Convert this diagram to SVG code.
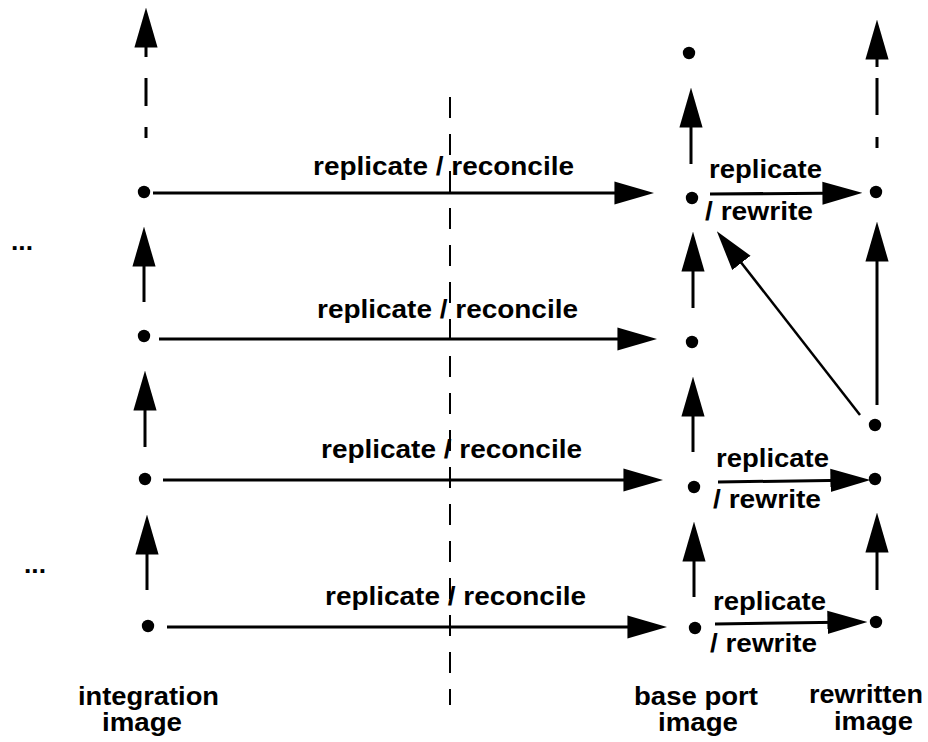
<svg xmlns="http://www.w3.org/2000/svg" width="928" height="742" viewBox="0 0 928 742">
<style>
text{font-family:"Liberation Sans",Arial,sans-serif;font-weight:bold;font-size:25px;fill:#000}
.c{stroke:#000;stroke-width:3;fill:none;marker-end:url(#ah)}
.d{stroke:#000;stroke-width:2;fill:none;stroke-dasharray:21 16}
.dot{fill:#000}
</style>
<defs>
<marker id="ah" markerUnits="userSpaceOnUse" markerWidth="40" markerHeight="24" viewBox="0 0 38 22" refX="30" refY="11" orient="auto">
<path d="M0,0 L38,11 L0,22 z" fill="#000"/>
</marker>
</defs>
<rect width="928" height="742" fill="#fff"/>
<g id="connectors">
<path class="c" d="M146,138 V127 M146,106 V78 M146,57 V16"/>
<path class="c" d="M144,302 V235"/>
<path class="c" d="M145,447 V379"/>
<path class="c" d="M147,590 V523"/>
<path class="c" d="M691,164 V96"/>
<path class="c" d="M693,308 V240"/>
<path class="c" d="M693,452 V385"/>
<path class="c" d="M694,597 V530"/>
<path class="c" d="M877,148 V137 M877,115 V78 M877,67 V28"/>
<path class="c" d="M877,405 V230"/>
<path class="c" d="M877,590 V521"/>
<path class="c" d="M153,193 H646"/>
<path class="c" d="M159,339 H649"/>
<path class="c" d="M163,480 H655"/>
<path class="c" d="M167,627 H659"/>
<path class="c" d="M710,194 L854,193"/>
<path class="c" d="M718,482 L862,480"/>
<path class="c" d="M715,624 L859,622"/>
<path class="c" style="stroke-width:2.5" d="M860,415 L722,238"/>
<path class="d" d="M450,97 V705"/>
</g>
<g id="integration-image">
<circle class="dot" cx="144" cy="192" r="6.2"/>
<circle class="dot" cx="144" cy="336" r="6.2"/>
<circle class="dot" cx="145" cy="479" r="6.2"/>
<circle class="dot" cx="148" cy="626" r="6.2"/>
<text x="78" y="705" textLength="141" lengthAdjust="spacingAndGlyphs">integration</text>
<text x="102" y="731" textLength="80" lengthAdjust="spacingAndGlyphs">image</text>
</g>
<g id="base-port-image">
<circle class="dot" cx="689" cy="53" r="6.2"/>
<circle class="dot" cx="692" cy="198" r="6.2"/>
<circle class="dot" cx="692" cy="342" r="6.2"/>
<circle class="dot" cx="694" cy="487" r="6.2"/>
<circle class="dot" cx="695" cy="628" r="6.2"/>
<text x="634" y="705" textLength="124" lengthAdjust="spacingAndGlyphs">base port</text>
<text x="658" y="731" textLength="80" lengthAdjust="spacingAndGlyphs">image</text>
</g>
<g id="rewritten-image">
<circle class="dot" cx="876" cy="192" r="6.2"/>
<circle class="dot" cx="875" cy="425" r="6.2"/>
<circle class="dot" cx="875" cy="479" r="6.2"/>
<circle class="dot" cx="876" cy="622" r="6.2"/>
<text x="809" y="703" textLength="114" lengthAdjust="spacingAndGlyphs">rewritten</text>
<text x="834" y="730" textLength="79" lengthAdjust="spacingAndGlyphs">image</text>
</g>
<g id="labels">
<text x="313" y="175" textLength="261" lengthAdjust="spacingAndGlyphs">replicate / reconcile</text>
<text x="317" y="318" textLength="261" lengthAdjust="spacingAndGlyphs">replicate / reconcile</text>
<text x="321" y="458" textLength="261" lengthAdjust="spacingAndGlyphs">replicate / reconcile</text>
<text x="325" y="605" textLength="261" lengthAdjust="spacingAndGlyphs">replicate / reconcile</text>
<text x="709" y="178" textLength="113" lengthAdjust="spacingAndGlyphs">replicate</text>
<text x="705" y="220" textLength="108" lengthAdjust="spacingAndGlyphs">/ rewrite</text>
<text x="716" y="467" textLength="113" lengthAdjust="spacingAndGlyphs">replicate</text>
<text x="713" y="508" textLength="108" lengthAdjust="spacingAndGlyphs">/ rewrite</text>
<text x="713" y="610" textLength="113" lengthAdjust="spacingAndGlyphs">replicate</text>
<text x="710" y="652" textLength="107" lengthAdjust="spacingAndGlyphs">/ rewrite</text>
<text x="11" y="250" textLength="22" lengthAdjust="spacingAndGlyphs">...</text>
<text x="24" y="573" textLength="22" lengthAdjust="spacingAndGlyphs">...</text>
</g>
</svg>
